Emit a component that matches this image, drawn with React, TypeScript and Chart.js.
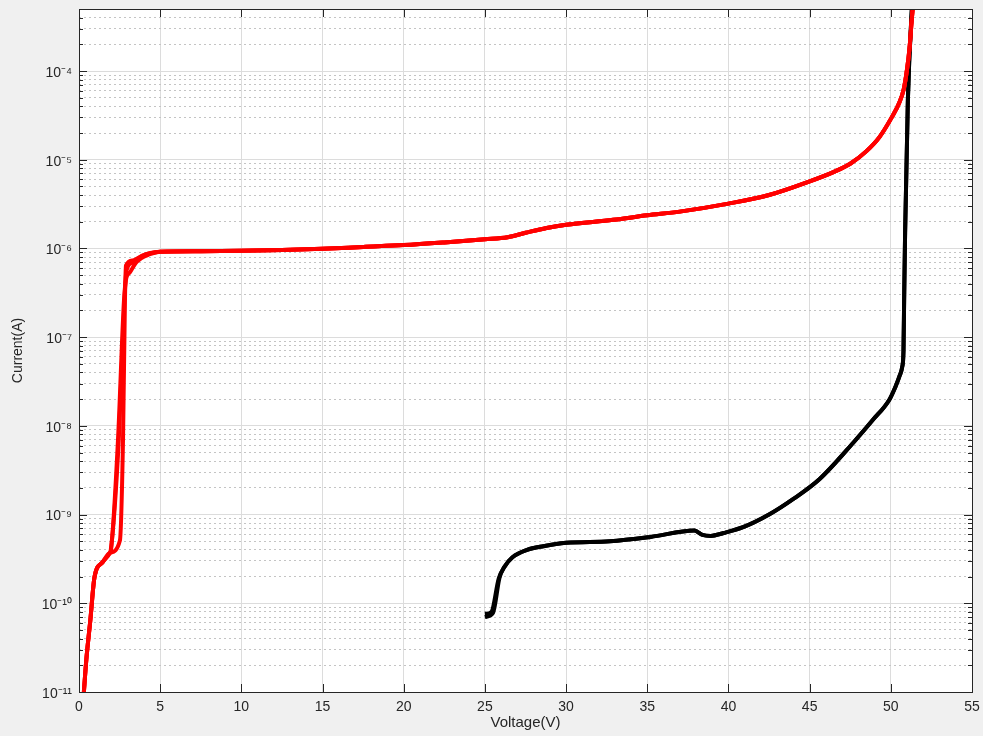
import React, { useEffect, useRef } from "react";
import { Chart, registerables } from "chart.js";

Chart.register(...registerables);

// ---- axis definitions ----
const xTickValues = [0, 5, 10, 15, 20, 25, 30, 35, 40, 45, 50, 55];
const yDecadeExps = [-11, -10, -9, -8, -7, -6, -5, -4];
const yMinorMultipliers = [2, 3, 4, 5, 6, 7, 8, 9];
const yMin = 1e-11;
const yMax = 5e-4;
const xMin = 0;
const xMax = 55;

// ---- red traces (three sweeps) ----
const redHeadV = [0.3, 0.45, 0.7, 0.95, 1.45, 1.9];
const redHeadI = [1e-11, 2.3e-11, 6.5e-11, 1.95e-10, 2.9e-10, 3.7e-10];

const redKneeAV = [2.52, 2.71, 2.83, 2.89, 3.3, 3.8, 4.4];
const redKneeAI = [5.1e-10, 6.9e-9, 2.6e-7, 6.4e-7, 7.3e-7, 8.1e-7, 8.9e-7];

const redKneeBV = [1.97, 2.4, 2.77, 2.89, 3.14, 3.57, 4.37];
const redKneeBI = [4.0e-10, 6.9e-9, 2.6e-7, 4.4e-7, 5.4e-7, 7.1e-7, 8.6e-7];

const redKneeCV = [1.95, 2.45, 2.8, 2.92, 3.3, 3.9, 4.6];
const redKneeCI = [3.9e-10, 6.9e-9, 2.6e-7, 5.6e-7, 6.9e-7, 8.3e-7, 9.0e-7];

const redTailV = [5.0, 7.5, 10, 12.5, 15, 17.5, 20, 22.5, 25, 26.4, 27.5, 28.8, 30, 32.9, 35, 37, 40, 42.5, 45, 46.5, 47.5, 48.5, 49.3, 50.1, 50.5, 50.8, 51.0, 51.15, 51.3, 51.45];
const redTailI = [9.2e-7, 9.3e-7, 9.4e-7, 9.6e-7, 9.9e-7, 1.04e-6, 1.09e-6, 1.17e-6, 1.27e-6, 1.34e-6, 1.5e-6, 1.7e-6, 1.85e-6, 2.1e-6, 2.36e-6, 2.6e-6, 3.2e-6, 4.0e-6, 5.7e-6, 7.3e-6, 9.0e-6, 1.25e-5, 1.8e-5, 3.1e-5, 4.3e-5, 6.3e-5, 1.05e-4, 1.8e-4, 4.0e-4, 8e-4];

// ---- black traces (two sweeps) ----
const blackHeadAV = [25.0, 25.5, 25.9];
const blackHeadAI = [7.0e-11, 7.8e-11, 1.94e-10];
const blackHeadBV = [25.0, 25.4, 25.85];
const blackHeadBI = [7.6e-11, 8.0e-11, 1.9e-10];

const blackTailV = [26.2, 26.7, 27.6, 28.6, 30.0, 32.7, 35.2, 37.9, 38.4, 38.9, 39.7, 40.9, 42.5, 44.0, 45.6, 47.7, 48.9, 49.9, 50.3, 50.55, 50.7, 50.78, 50.82, 50.88, 51.05, 51.35];
const blackTailI = [2.57e-10, 3.3e-10, 4.0e-10, 4.4e-10, 4.8e-10, 5.0e-10, 5.6e-10, 6.6e-10, 5.9e-10, 5.75e-10, 6.2e-10, 7.2e-10, 1.0e-9, 1.5e-9, 2.5e-9, 6.5e-9, 1.17e-8, 1.96e-8, 2.8e-8, 3.7e-8, 4.6e-8, 7.0e-8, 2.6e-7, 1.5e-6, 4.7e-5, 8e-4];

const xTitle = "Voltage(V)";
const yTitle = "Current(A)";

const FONT = "'Liberation Sans', Arial, Helvetica, sans-serif";
const TEXT = "#262626";
const AXIS = "#262626";

const toPoints = (vs: number[], is: number[]) => vs.map((v, i) => ({ x: v, y: is[i] }));

const SUP: Record<string, string> = {
  "-": "\u207B", "0": "\u2070", "1": "\u00B9", "2": "\u00B2", "3": "\u00B3",
  "4": "\u2074", "5": "\u2075", "6": "\u2076", "7": "\u2077", "8": "\u2078", "9": "\u2079",
};
const fmtPow = (v: number) => {
  const e = Math.round(Math.log10(v));
  return "10" + String(e).split("").map((c) => SUP[c] || c).join("");
};

const decadeValues = yDecadeExps.map((e) => Math.pow(10, e));
const minorValues: number[] = [];
yDecadeExps.forEach((e) => {
  yMinorMultipliers.forEach((m) => {
    const v = m * Math.pow(10, e);
    if (v <= yMax * 1.0001) minorValues.push(v);
  });
});

const zeroPad = (s: any) => {
  s.paddingTop = 0;
  s.paddingBottom = 0;
  s.paddingLeft = 0;
  s.paddingRight = 0;
};

const framePlugin = {
  id: "matlabFrame",
  beforeDraw(chart: any) {
    const { ctx, chartArea } = chart;
    const { left, top, right, bottom } = chartArea;
    ctx.save();
    ctx.fillStyle = "#ffffff";
    ctx.fillRect(left, top, right - left, bottom - top);
    ctx.restore();
  },
  afterDraw(chart: any) {
    const { ctx, chartArea } = chart;
    const { left, top, right, bottom } = chartArea;
    const xs = chart.scales.x;
    const ys = chart.scales.y;
    ctx.save();
    ctx.strokeStyle = AXIS;
    ctx.lineWidth = 1;
    ctx.beginPath();
    ctx.rect(Math.round(left) + 0.5, Math.round(top) + 0.5, Math.round(right - left), Math.round(bottom - top));
    ctx.stroke();
    ctx.beginPath();
    xTickValues.forEach((v) => {
      const px = Math.round(xs.getPixelForValue(v)) + 0.5;
      ctx.moveTo(px, bottom);
      ctx.lineTo(px, bottom - 8);
      ctx.moveTo(px, top);
      ctx.lineTo(px, top + 8);
    });
    decadeValues.forEach((v) => {
      const py = Math.round(ys.getPixelForValue(v)) + 0.5;
      ctx.moveTo(left, py);
      ctx.lineTo(left + 8, py);
      ctx.moveTo(right, py);
      ctx.lineTo(right - 8, py);
    });
    minorValues.forEach((v) => {
      const py = Math.round(ys.getPixelForValue(v)) + 0.5;
      ctx.moveTo(left, py);
      ctx.lineTo(left + 4, py);
      ctx.moveTo(right, py);
      ctx.lineTo(right - 4, py);
    });
    ctx.stroke();
    ctx.restore();
  },
};

export default function App() {
  const ref = useRef<HTMLCanvasElement | null>(null);

  useEffect(() => {
    if (!ref.current) return;
    const lineBase = {
      pointRadius: 0,
      borderWidth: 4,
      cubicInterpolationMode: "monotone" as const,
      tension: 0.4,
      fill: false,
      clip: 0,
    };
    const chart = new Chart(ref.current, {
      type: "line",
      data: {
        datasets: [
          { ...lineBase, borderColor: "#ff0000", data: toPoints([...redHeadV, ...redKneeAV, ...redTailV], [...redHeadI, ...redKneeAI, ...redTailI]) },
          { ...lineBase, borderColor: "#ff0000", data: toPoints([...redHeadV, ...redKneeBV, ...redTailV], [...redHeadI, ...redKneeBI, ...redTailI]) },
          { ...lineBase, borderColor: "#ff0000", data: toPoints([...redHeadV, ...redKneeCV, ...redTailV], [...redHeadI, ...redKneeCI, ...redTailI]) },
          { ...lineBase, borderColor: "#000000", data: toPoints([...blackHeadAV, ...blackTailV], [...blackHeadAI, ...blackTailI]) },
          { ...lineBase, borderColor: "#000000", data: toPoints([...blackHeadBV, ...blackTailV], [...blackHeadBI, ...blackTailI]) },
        ],
      },
      options: {
        animation: false,
        responsive: true,
        maintainAspectRatio: false,
        layout: { padding: { left: 0, right: 11, top: 9, bottom: 0 } },
        plugins: { legend: { display: false }, tooltip: { enabled: false } },
        events: [],
        scales: {
          x: {
            type: "linear",
            min: xMin,
            max: xMax,
            afterBuildTicks: (s: any) => {
              s.ticks = xTickValues.map((v) => ({ value: v }));
            },
            afterFit: (s: any) => {
              s.height = 44;
              zeroPad(s);
            },
            grid: { color: "#dcdcdc", lineWidth: 1, drawTicks: false },
            border: { display: true, color: AXIS },
            ticks: { color: TEXT, font: { family: FONT, size: 14 }, padding: 7, maxRotation: 0, autoSkip: false },
            title: { display: true, text: xTitle, color: TEXT, font: { family: FONT, size: 15 }, padding: { top: 0, bottom: 4 } },
          },
          y: {
            type: "logarithmic",
            position: "left",
            min: yMin,
            max: yMax,
            afterBuildTicks: (s: any) => {
              s.ticks = decadeValues.map((v) => ({ value: v, major: true }));
            },
            afterFit: (s: any) => {
              s.width = 79;
              zeroPad(s);
            },
            grid: { color: "#dcdcdc", lineWidth: 1, drawTicks: false },
            border: { display: true, color: AXIS },
            ticks: {
              color: TEXT,
              font: { family: FONT, size: 14 },
              padding: 7,
              autoSkip: false,
              labelOffset: 2,
              callback: (v: any) => fmtPow(Number(v)),
            },
            title: { display: true, text: yTitle, color: TEXT, font: { family: FONT, size: 14 }, padding: { top: 10, bottom: 0 } },
          },
          yMinor: {
            type: "logarithmic",
            position: "left",
            min: yMin,
            max: yMax,
            afterBuildTicks: (s: any) => {
              s.ticks = minorValues.map((v) => ({ value: v }));
            },
            afterFit: (s: any) => {
              s.width = 0;
              zeroPad(s);
            },
            grid: { color: "#c4c4c4", lineWidth: 1, drawTicks: false },
            border: { display: false, dash: [2, 3] },
            ticks: { display: false },
            title: { display: false },
          },
        },
      },
      plugins: [framePlugin],
    } as any);
    return () => chart.destroy();
  }, []);

  return (
    <div style={{ position: "fixed", left: 0, top: 0, width: 983, height: 736, background: "#f0f0f0" }}>
      <canvas ref={ref} style={{ display: "block" }} />
    </div>
  );
}
